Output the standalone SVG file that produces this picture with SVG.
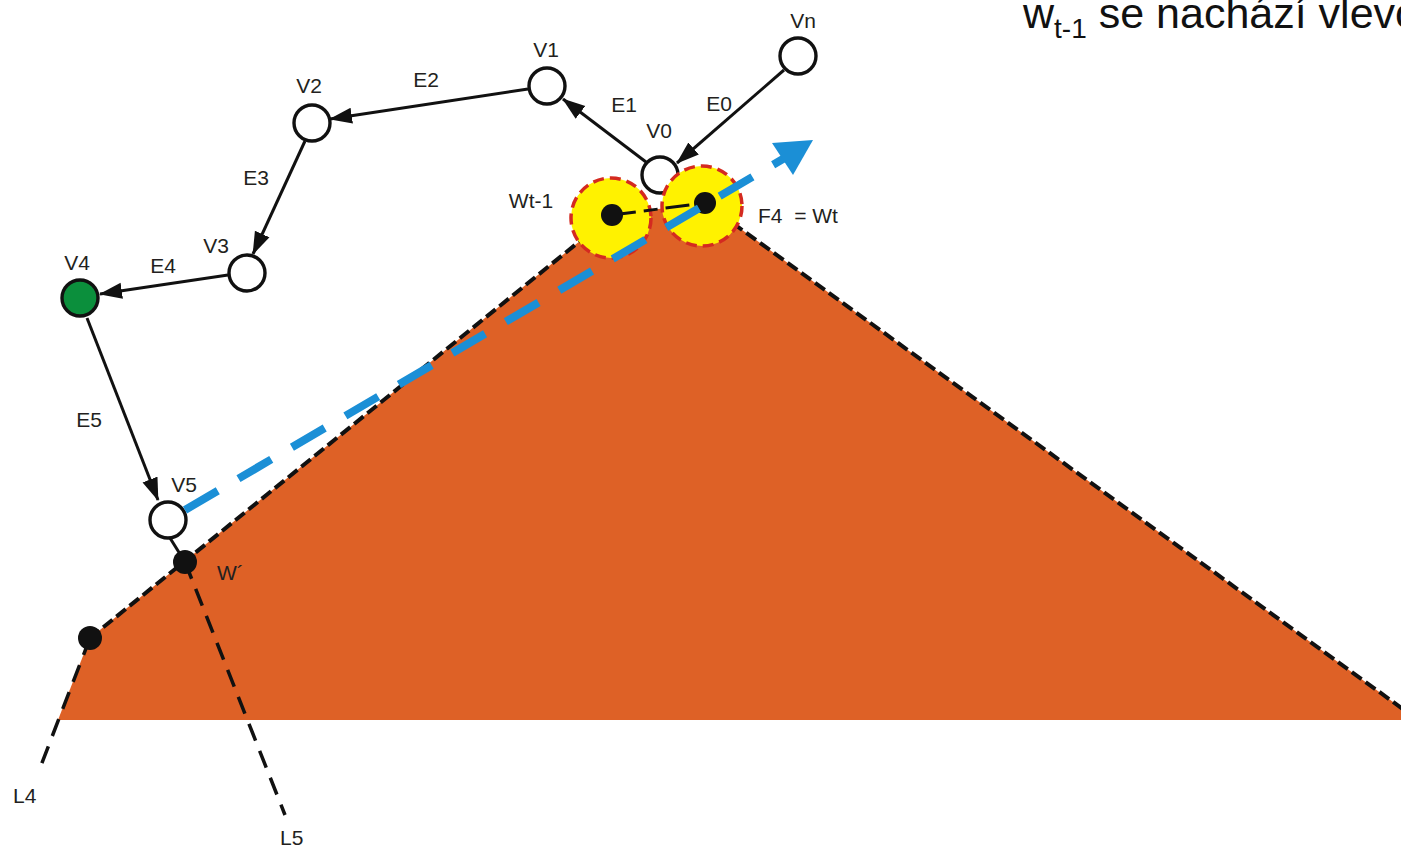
<svg xmlns="http://www.w3.org/2000/svg" width="1401" height="848" viewBox="0 0 1401 848">
<defs>
<style>
.lbl{font-family:"Liberation Sans",Arial,sans-serif;font-size:21px;fill:#231f20;}
.node{fill:#fff;stroke:#111;stroke-width:3.4;}
.edge{stroke:#111;stroke-width:3;fill:none;}
.bdash{stroke:#111;stroke-width:4;fill:none;stroke-dasharray:12 5;}
.ldash{stroke:#111;stroke-width:3.5;fill:none;stroke-dasharray:18 11;}
.dot{fill:#111;}
.win{fill:#fff200;stroke:#d42a20;stroke-width:3.5;stroke-dasharray:11 6;}
</style>
<marker id="arr" markerUnits="userSpaceOnUse" markerWidth="24" markerHeight="18" viewBox="0 0 24 18" refX="22" refY="9" orient="auto">
<path d="M0,1 L23,9 L0,17 z" fill="#111"/>
</marker>
</defs>
<rect width="1401" height="848" fill="#fff"/>

<g id="region">
<polygon points="58,720 90,638 612,215 705,203 1418,720" fill="#de6126"/>
<line x1="90" y1="638" x2="612" y2="215" class="bdash"/>
<line x1="705" y1="203" x2="1418" y2="720" class="bdash"/>
<line x1="90" y1="638" x2="40" y2="768" class="ldash" stroke-dasharray="13 9"/>
</g>

<g id="connectors">
<line x1="784" y1="70" x2="677" y2="163" class="edge" marker-end="url(#arr)"/>
<line x1="646" y1="162" x2="563" y2="99" class="edge" marker-end="url(#arr)"/>
<line x1="528" y1="89" x2="330" y2="119" class="edge" marker-end="url(#arr)"/>
<line x1="305" y1="141" x2="253" y2="254" class="edge" marker-end="url(#arr)"/>
<line x1="228" y1="275" x2="100" y2="294" class="edge" marker-end="url(#arr)"/>
<line x1="87" y1="318" x2="158" y2="500" class="edge" marker-end="url(#arr)"/>
<line x1="170" y1="538" x2="185" y2="562" class="edge"/>
<line x1="185" y1="562" x2="285" y2="815" class="ldash"/>
</g>

<g id="Vn"><circle cx="798" cy="56" r="18" class="node"/><text x="803" y="28" class="lbl" text-anchor="middle">Vn</text></g>
<g id="V1"><circle cx="547" cy="86" r="18" class="node"/><text x="546" y="57" class="lbl" text-anchor="middle">V1</text></g>
<g id="V2"><circle cx="312" cy="123" r="18" class="node"/><text x="309" y="93" class="lbl" text-anchor="middle">V2</text></g>
<g id="V3"><circle cx="247" cy="273" r="18" class="node"/><text x="216" y="253" class="lbl" text-anchor="middle">V3</text></g>
<g id="V4"><circle cx="80" cy="298" r="18" class="node" style="fill:#0b8f3c"/><text x="77" y="270" class="lbl" text-anchor="middle">V4</text></g>
<g id="V5"><circle cx="168" cy="520" r="18" class="node"/><text x="184" y="492" class="lbl" text-anchor="middle">V5</text></g>
<g id="V0"><circle cx="660" cy="175" r="18" class="node"/><text x="659" y="138" class="lbl" text-anchor="middle">V0</text></g>

<g id="edge-labels">
<text x="719" y="111" class="lbl" text-anchor="middle">E0</text>
<text x="624" y="112" class="lbl" text-anchor="middle">E1</text>
<text x="426" y="87" class="lbl" text-anchor="middle">E2</text>
<text x="256" y="185" class="lbl" text-anchor="middle">E3</text>
<text x="163" y="273" class="lbl" text-anchor="middle">E4</text>
<text x="89" y="427" class="lbl" text-anchor="middle">E5</text>
</g>

<g id="Wt-1"><circle cx="611" cy="218" r="40" class="win"/><text x="531" y="208" class="lbl" text-anchor="middle">Wt-1</text></g>
<g id="Wt"><circle cx="702" cy="206" r="40" class="win"/><text x="758" y="223" class="lbl" style="white-space:pre">F4  = Wt</text></g>
<g id="w-link">
<line x1="612" y1="215" x2="705" y2="203" class="edge" stroke-dasharray="24 8 14 8"/>
<circle cx="612" cy="215" r="11" class="dot"/>
<circle cx="705" cy="203" r="11" class="dot"/>
</g>

<g id="W-prime"><circle cx="185" cy="562" r="12" class="dot"/><text x="217" y="580" class="lbl">W´</text></g>
<g id="P4"><circle cx="90" cy="638" r="12" class="dot"/></g>
<g id="L4"><text x="13" y="803" class="lbl">L4</text></g>
<g id="L5"><text x="280" y="845" class="lbl">L5</text></g>

<g id="blue-ray">
<line x1="185" y1="510" x2="788" y2="156" stroke="#1b8fd6" stroke-width="8" stroke-dasharray="38 24"/>
<polygon points="813,140 772,143 793,175" fill="#1b8fd6"/>
</g>

<g id="note">
<text x="1023" y="28" font-family="Liberation Sans, Arial, sans-serif" font-size="43" fill="#111">w<tspan dy="10" font-size="28">t-1</tspan><tspan dy="-10"> se nachází vlevo</tspan></text>
</g>
</svg>
